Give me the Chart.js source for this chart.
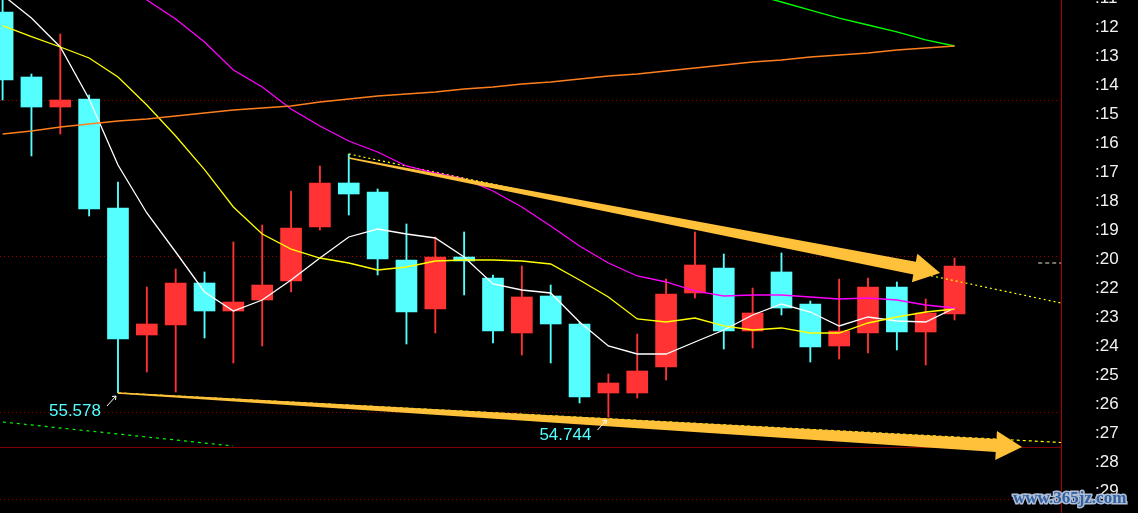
<!DOCTYPE html>
<html>
<head>
<meta charset="utf-8">
<script src="https://cdn.jsdelivr.net/npm/chart.js@4.4.1/dist/chart.umd.min.js"></script>
<style>
  html, body { margin: 0; padding: 0; background: #000; }
  #wrap { position: relative; width: 1138px; height: 513px; }
</style>
</head>
<body>
<div id="wrap"><canvas id="kline"></canvas></div>
<script>
// daily candles
const opens  = [68.716, 66.475, 65.44, 65.716, 61.958, 57.578, 57.923, 59.371, 58.406, 58.785, 59.44, 61.302, 62.82, 62.509, 60.164, 58.475, 60.268, 59.544, 57.647, 58.923, 57.958, 55.578, 55.578, 56.475, 59.027, 59.889, 57.716, 59.751, 58.647, 57.199, 57.647, 59.233, 57.682, 58.302];
const highs  = [69.30, 66.578, 67.958, 65.854, 62.854, 59.233, 59.854, 59.751, 60.785, 61.371, 62.544, 63.406, 63.82, 62.613, 61.406, 60.958, 61.13, 59.647, 59.958, 59.302, 58.027, 56.233, 57.613, 59.509, 61.13, 60.371, 59.199, 60.406, 58.751, 59.509, 59.544, 59.406, 58.82, 60.233];
const lows   = [65.682, 63.751, 64.509, 61.682, 55.578, 56.302, 55.613, 57.475, 56.613, 57.199, 59.061, 61.199, 61.716, 59.647, 57.268, 57.647, 58.958, 57.302, 56.889, 56.613, 55.233, 54.744, 55.406, 56.027, 58.854, 57.096, 57.13, 58.268, 56.647, 56.751, 56.958, 57.061, 56.544, 58.096];
const closes = [66.371, 65.44, 65.682, 61.923, 57.44, 57.958, 59.371, 58.406, 58.716, 59.302, 61.268, 62.82, 62.44, 60.199, 58.371, 60.268, 60.13, 57.716, 58.889, 57.958, 55.44, 55.923, 56.337, 58.992, 59.992, 57.716, 58.337, 58.509, 57.164, 57.716, 59.233, 57.682, 58.337, 59.958];

// moving averages
const ma5   = [69.302, 68.509, 67.509, 65.716, 63.44, 61.785, 60.44, 59.061, 58.406, 58.785, 59.475, 60.233, 60.958, 61.233, 61.061, 60.923, 60.268, 59.337, 59.13, 59.027, 58.027, 57.199, 56.923, 56.923, 57.337, 57.751, 58.268, 58.647, 58.371, 57.889, 58.199, 58.061, 58.027, 58.509];
const ma10  = [68.25, 67.87, 67.509, 67.13, 66.475, 65.51, 64.44, 63.28, 61.992, 61.06, 60.54, 60.233, 60.061, 59.82, 59.923, 60.13, 60.164, 60.164, 60.13, 60.027, 59.475, 58.889, 58.13, 58.027, 58.164, 57.889, 57.751, 57.82, 57.647, 57.647, 57.992, 58.199, 58.371, 58.475];
const ma20  = [null, null, null, 70.509, 69.785, 69.13, 68.475, 67.682, 66.716, 66.13, 65.371, 64.785, 64.268, 63.889, 63.406, 63.164, 62.958, 62.544, 61.992, 61.337, 60.647, 60.061, 59.613, 59.406, 59.096, 58.923, 58.958, 58.958, 58.889, 58.82, 58.854, 58.785, 58.613, 58.509];
const ma60  = [null, null, null, null, null, null, null, null, null, null, null, null, null, null, null, null, null, null, null, null, null, null, null, null, null, null, 69.337, 69.061, 68.785, 68.509, 68.268, 68.027, 67.751, 67.544];
const ma120 = [64.509, 64.613, 64.751, 64.854, 64.958, 65.027, 65.13, 65.233, 65.337, 65.406, 65.475, 65.613, 65.716, 65.82, 65.889, 65.958, 66.061, 66.13, 66.233, 66.302, 66.406, 66.509, 66.578, 66.682, 66.785, 66.889, 66.992, 67.061, 67.164, 67.233, 67.302, 67.406, 67.475, 67.544];

// right axis
const tickValues = [69.2, 68.2, 67.2, 66.2, 65.2, 64.2, 63.2, 62.2, 61.2, 60.2, 59.2, 58.2, 57.2, 56.2, 55.2, 54.2, 53.2, 52.2];
const tickLabels = [":11", ":12", ":13", ":14", ":15", ":16", ":17", ":18", ":19", ":20", ":22", ":23", ":24", ":25", ":26", ":27", ":28", ":29"];

// horizontal guide lines
const gridLevels = [65.682, 60.302, 54.923, 51.923];
const panelLevel = 53.716;

// drawn lines [index, price]
const upperTrend = [[12, 63.82], [36.69, 58.682]];
const lowerTrend = [[4, 55.578], [36.69, 53.871]];
const greenTrend = [[0.01, 54.578], [7.99, 53.751]];
const lastPrice  = [[35.9, 60.061], [36.69, 60.061]];
const upperArrow = [[12, 63.682], [32.5, 59.716]];
const lowerArrow = [[4, 55.578], [35.34, 53.716]];
const markedLows = [4, 21];

const RED = '#ff3333', CYAN = '#55ffff';
const candleColors = opens.map((o, i) => closes[i] >= o ? RED : CYAN);
const pts = arr => arr.map((v, i) => ({ x: i, y: v }));
const seg = arr => arr.map(p => ({ x: p[0], y: p[1] }));

function lineSet(data, color, dash) {
  return {
    type: 'line', data, borderColor: color, borderWidth: dash ? 1.2 : 1.3, borderDash: dash || [],
    pointRadius: 0, tension: 0, spanGaps: false, order: 1
  };
}

function drawArrow(ctx, x0, y0, x1, y1) {
  const dx = x1 - x0, dy = y1 - y0, len = Math.hypot(dx, dy);
  const ux = dx / len, uy = dy / len, nx = -uy, ny = ux;
  const head = 26, headW = 14.5, w0 = 0.8, w1 = 6.5;
  const bx = x1 - ux * head, by = y1 - uy * head;
  ctx.beginPath();
  ctx.moveTo(x0 + nx * w0, y0 + ny * w0);
  ctx.lineTo(bx + nx * w1, by + ny * w1);
  ctx.lineTo(bx + nx * headW, by + ny * headW);
  ctx.lineTo(x1, y1);
  ctx.lineTo(bx - nx * headW, by - ny * headW);
  ctx.lineTo(bx - nx * w1, by - ny * w1);
  ctx.lineTo(x0 - nx * w0, y0 - ny * w0);
  ctx.closePath();
  ctx.fill();
}

const overlay = {
  id: 'overlay',
  beforeDatasetsDraw(chart) {
    const { ctx, chartArea: a, scales: { y } } = chart;
    ctx.save();
    ctx.lineWidth = 1;
    ctx.strokeStyle = '#a00000';
    ctx.setLineDash([1, 3]);
    gridLevels.forEach(v => {
      const py = Math.round(y.getPixelForValue(v)) + 0.5;
      ctx.beginPath(); ctx.moveTo(a.left, py); ctx.lineTo(a.right - 3, py); ctx.stroke();
    });
    ctx.setLineDash([]);
    ctx.strokeStyle = '#800000';
    const pp = Math.round(y.getPixelForValue(panelLevel)) + 0.5;
    ctx.beginPath(); ctx.moveTo(a.left, pp); ctx.lineTo(a.right, pp); ctx.stroke();
    ctx.restore();
  },
  afterDatasetsDraw(chart) {
    const { ctx, scales: { x, y } } = chart;
    ctx.save();
    ctx.fillStyle = '#ffc03a';
    [upperArrow, lowerArrow].forEach(ar => {
      drawArrow(ctx, x.getPixelForValue(ar[0][0]), y.getPixelForValue(ar[0][1]),
                     x.getPixelForValue(ar[1][0]), y.getPixelForValue(ar[1][1]));
    });

    markedLows.forEach(i => {
      const px = x.getPixelForValue(i), py = y.getPixelForValue(lows[i]);
      ctx.strokeStyle = '#ffffff';
      ctx.lineWidth = 1;
      ctx.beginPath();
      ctx.moveTo(px - 11, py + 13); ctx.lineTo(px - 2, py + 3);
      ctx.moveTo(px - 2, py + 3); ctx.lineTo(px - 6, py + 3.5);
      ctx.moveTo(px - 2, py + 3); ctx.lineTo(px - 2.5, py + 7);
      ctx.stroke();
      ctx.fillStyle = CYAN;
      ctx.font = '17px "Liberation Sans", Arial, sans-serif';
      ctx.textAlign = 'right';
      ctx.textBaseline = 'alphabetic';
      ctx.fillText(lows[i].toFixed(3), px - 17, py + 22.5);
    });

    // watermark
    ctx.font = 'bold 17px "Liberation Serif", serif';
    ctx.textAlign = 'left';
    ctx.lineWidth = 3;
    ctx.strokeStyle = '#aebfd8';
    ctx.strokeText('www.365jz.com', 1013, 503);
    ctx.fillStyle = '#35609f';
    ctx.fillText('www.365jz.com', 1013, 503);
    ctx.restore();
  }
};

new Chart(document.getElementById('kline').getContext('2d'), {
  type: 'bar',
  data: {
    datasets: [
      lineSet(pts(ma120), '#ff7f1e'),
      lineSet(pts(ma60), '#00ff00'),
      lineSet(pts(ma20), '#ff00ff'),
      lineSet(pts(ma10), '#ffff00'),
      lineSet(pts(ma5), '#ffffff'),
      lineSet(seg(upperTrend), '#ffff00', [2, 3]),
      lineSet(seg(lowerTrend), '#ffff00', [3, 3]),
      lineSet(seg(greenTrend), '#00ff00', [3, 4]),
      lineSet(seg(lastPrice), '#e6e6d0', [4, 3]),
      {
        data: lows.map((l, i) => ({ x: i, y: [l, highs[i]] })),
        backgroundColor: candleColors, borderWidth: 0, barThickness: 1.2,
        grouped: false, order: 10
      },
      {
        data: opens.map((o, i) => ({ x: i, y: [o, closes[i]] })),
        backgroundColor: candleColors, borderWidth: 0, barThickness: 21,
        grouped: false, order: 9
      }
    ]
  },
  options: {
    responsive: true,
    maintainAspectRatio: false,
    animation: false,
    layout: { padding: 0 },
    plugins: { legend: { display: false }, tooltip: { enabled: false } },
    scales: {
      x: { type: 'linear', display: false, offset: false, min: -0.09, max: 36.69 },
      y: {
        type: 'linear', position: 'right', min: 51.44, max: 69.13,
        beginAtZero: false, bounds: 'data',
        afterBuildTicks: s => { s.ticks = tickValues.map(v => ({ value: v })); },
        afterFit: s => { s.width = 77; s.paddingTop = 0; s.paddingBottom = 0; },
        grid: { display: false, drawTicks: false },
        border: { display: true, color: '#b00000', width: 1 },
        ticks: {
          autoSkip: false, padding: 34, color: '#f2f2f2',
          font: { family: '"Liberation Sans", Arial, sans-serif', size: 17 },
          callback: (v, i) => tickLabels[i]
        }
      }
    }
  },
  plugins: [overlay]
});
</script>
</body>
</html>
